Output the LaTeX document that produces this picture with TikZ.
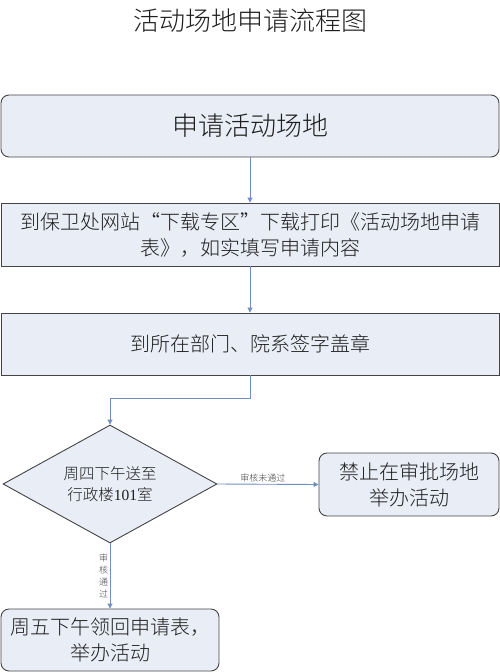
\documentclass[tikz,border=0pt]{standalone}
\usepackage{fontspec}
\setmainfont{Noto Sans CJK SC}[UprightFont=* Light]
\newfontfamily\latinserif{Liberation Serif}
\usetikzlibrary{shapes.geometric,arrows.meta}
\definecolor{boxfill}{HTML}{E9EDF6}
\definecolor{boxline}{HTML}{444444}
\definecolor{arrowcol}{HTML}{6F8FC2}
\definecolor{txt}{HTML}{1E1E1E}
\begin{document}
\begin{tikzpicture}[x=1pt,y=-1pt,
  box/.style={draw=boxline, fill=boxfill, line width=0.9pt, inner sep=0pt, text=txt, align=center},
  rbox/.style={box, rounded corners=8pt},
  conn/.style={draw=arrowcol, line width=0.9pt, -{Triangle[length=5pt,width=5pt]}},
  lbl/.style={font=\fontsize{9}{12}\selectfont, text=black!75, inner sep=1.5pt},
  big/.style={font=\fontsize{26}{30}\selectfont},
  mid/.style={font=\fontsize{20}{26}\selectfont},
  small/.style={font=\fontsize{15.5}{21}\selectfont}]
\useasboundingbox (0,0) rectangle (500,672);
\node[big, text=txt] (title) at (250,21) {活动场地申请流程图};
\node[rbox, big, minimum width=498pt, minimum height=62pt] (b1) at (250,126) {申请活动场地};
\node[box, mid, minimum width=498pt, minimum height=63pt] (b2) at (250,234.5) {到保卫处网站“下载专区”下载打印《活动场地申请\\表》，如实填写申请内容};
\node[box, mid, minimum width=498pt, minimum height=62pt] (b3) at (250,344) {到所在部门、院系签字盖章};
\node[box, diamond, aspect=1.8, small, minimum width=214pt, minimum height=118pt] (d) at (110,484) {周四下午送至\\行政楼{\latinserif 101}室};
\node[rbox, mid, minimum width=180pt, minimum height=63pt] (b4) at (409,484.5) {禁止在审批场地\\举办活动};
\node[rbox, mid, minimum width=218pt, minimum height=62pt] (b5) at (110,640) {周五下午领回申请表，\\举办活动};
\coordinate (bend) at (250,398);
\draw[conn] (b1) -- (b2);
\draw[conn] (b2) -- (b3);
\draw[conn] (b3.south) -- (bend) -| (d.north);
\draw[conn] (d.east) -- node[lbl, above, pos=0.45] {审核未通过} (b4.west);
\draw[conn] (d.south) -- node[lbl, left, align=center] {审\\核\\通\\过} (b5.north);
\end{tikzpicture}
\end{document}
